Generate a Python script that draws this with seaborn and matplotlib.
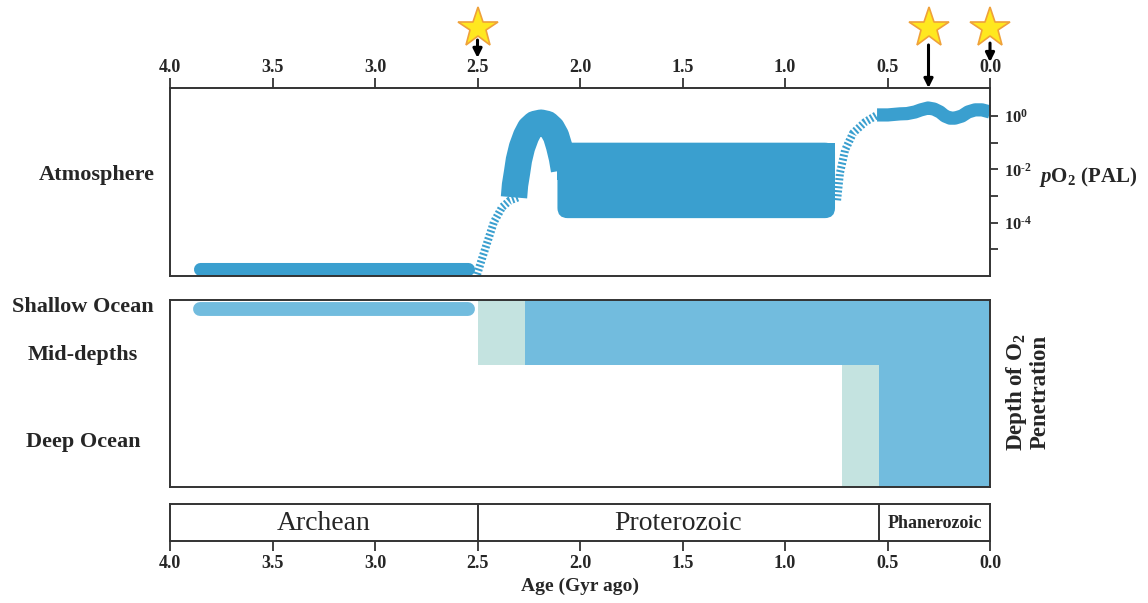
import matplotlib
matplotlib.use("Agg")
import matplotlib.pyplot as plt
import matplotlib.transforms as mtransforms
from matplotlib.patches import FancyBboxPatch
import seaborn as sns

# ---- data: ages in Gyr ago, atmosphere as log10(pO2 / PAL) ----
archean_age = [3.855, 2.546]
archean_logpo2 = [-5.73, -5.73]

goe_age = [2.502, 2.473, 2.449, 2.420, 2.380, 2.341, 2.302]
goe_logpo2 = [-5.94, -5.23, -4.66, -3.98, -3.42, -3.16, -3.05]

lomagundi_age = [2.322, 2.317, 2.307, 2.298, 2.283, 2.263, 2.244, 2.220, 2.190,
                 2.161, 2.137, 2.117, 2.102, 2.088, 2.078]
lomagundi_logpo2 = [-3.05, -2.59, -2.11, -1.65, -1.17, -0.75, -0.47, -0.30, -0.25,
                    -0.30, -0.47, -0.75, -1.13, -1.58, -2.03]

proterozoic_age = [2.11, 0.756]
proterozoic_low = [-3.83, -3.83]
proterozoic_high = [-1.0, -1.0]

noe_age = [0.746, 0.732, 0.707, 0.668, 0.610, 0.551]
noe_logpo2 = [-3.16, -2.14, -1.28, -0.64, -0.23, 0.04]

phanerozoic_age = [0.551, 0.498, 0.439, 0.405, 0.366, 0.337, 0.302, 0.273, 0.244,
                   0.220, 0.195, 0.171, 0.137, 0.107, 0.073, 0.039, 0.0]
phanerozoic_logpo2 = [0.04, 0.04, 0.08, 0.09, 0.15, 0.23, 0.30, 0.26, 0.15,
                      0.00, -0.08, -0.08, 0.00, 0.15, 0.23, 0.23, 0.15]

po2_ticks = [0, -2, -4]
po2_minor = [-1, -3, -5]
po2_labels = ["$\\mathregular{10^{0}}$", "$\\mathregular{10^{\\text{-}2}}$",
              "$\\mathregular{10^{\\text{-}4}}$"]

# ---- ocean: depth fraction, 0 = surface, 1 = deep ocean floor ----
shallow_age = [3.855, 2.546]
shallow_depth = [0.048, 0.048]

block_start = [2.5, 2.27, 0.72, 0.541]
block_end = [2.27, 0.0, 0.541, 0.0]
block_top = [0.0, 0.0, 0.348, 0.0]
block_bottom = [0.348, 0.348, 1.0, 1.0]
block_kind = ["transition", "oxic", "transition", "oxic"]

depth_names = ["Shallow Ocean", "Mid-depths", "Deep Ocean"]

# ---- eons ----
eon_names = ["Archean", "Proterozoic", "Phanerozoic"]
eon_bounds = [4.0, 2.5, 0.541, 0.0]

age_ticks = [4.0, 3.5, 3.0, 2.5, 2.0, 1.5, 1.0, 0.5, 0.0]
event_ages = [2.5, 0.3, 0.0]

# ---- styling ----
ATM_BLUE = "#3A9FCF"
OCEAN_BLUE = "#72BCDE"
PALE = "#C4E3E0"
SPINE = "#333333"
SERIF = ["Liberation Serif", "DejaVu Serif"]

sns.set_theme(style="white")
plt.rcParams["font.family"] = SERIF
plt.rcParams["font.weight"] = "bold"
plt.rcParams["mathtext.fontset"] = "custom"
plt.rcParams["mathtext.rm"] = "Liberation Serif:bold"
plt.rcParams["mathtext.it"] = "Liberation Serif:italic:bold"
plt.rcParams["mathtext.bf"] = "Liberation Serif:bold"

fig = plt.figure(figsize=(11.48, 6.03), dpi=100)
W, H = 1148, 603


def px_axes(x0, y0, x1, y1):
    return fig.add_axes([x0 / W, 1 - y1 / H, (x1 - x0) / W, (y1 - y0) / H])


ax_atm = px_axes(170, 88, 990, 276)
ax_sea = px_axes(170, 300, 990, 487)
ax_eon = px_axes(170, 504, 990, 541)

for ax in (ax_atm, ax_sea, ax_eon):
    ax.set_xlim(4.0, 0.0)
    for s in ax.spines.values():
        s.set_color(SPINE)
        s.set_linewidth(1.4)
        s.set_visible(True)
    ax.set_facecolor("white")

# ---- atmosphere panel ----
ax_atm.set_ylim(-6.0, 1.05)
sns.lineplot(x=archean_age, y=archean_logpo2, ax=ax_atm, color=ATM_BLUE, lw=9.4,
             sort=False, estimator=None, solid_capstyle="round")
dotted = (0, (0.25, 0.25))
sns.lineplot(x=goe_age, y=goe_logpo2, ax=ax_atm, color=ATM_BLUE, lw=5.8,
             sort=False, estimator=None, linestyle=dotted, dash_capstyle="butt")

# mid-Proterozoic plateau: square top, rounded lower corners
p_left, p_right = max(proterozoic_age), min(proterozoic_age)
p_low, p_high = proterozoic_low[0], proterozoic_high[0]
x_px = 205.0   # pixels per Gyr on this axis
y_px = 26.6    # pixels per decade of pO2
plateau = FancyBboxPatch((p_right, p_low), p_left - p_right, p_high - p_low,
                         boxstyle="round,pad=0,rounding_size=0.05",
                         mutation_aspect=x_px / y_px,
                         facecolor=ATM_BLUE, edgecolor="none", zorder=2)
ax_atm.add_patch(plateau)
ax_atm.fill_between(proterozoic_age, [(p_low + p_high) / 2] * 2, proterozoic_high,
                    color=ATM_BLUE, linewidth=0, zorder=2)

sns.lineplot(x=lomagundi_age, y=lomagundi_logpo2, ax=ax_atm, color=ATM_BLUE, lw=19,
             sort=False, estimator=None, solid_capstyle="butt", solid_joinstyle="round")
sns.lineplot(x=noe_age, y=noe_logpo2, ax=ax_atm, color=ATM_BLUE, lw=5.8,
             sort=False, estimator=None, linestyle=dotted, dash_capstyle="butt")
sns.lineplot(x=phanerozoic_age, y=phanerozoic_logpo2, ax=ax_atm, color=ATM_BLUE, lw=9.5,
             sort=False, estimator=None, solid_capstyle="butt", solid_joinstyle="round")

ax_atm.xaxis.tick_top()
ax_atm.set_xticks(age_ticks)
ax_atm.set_xticklabels([f"{t:.1f}" for t in age_ticks])
ax_atm.tick_params(axis="x", which="both", top=True, bottom=False, direction="out",
                   length=7, width=1.3, color=SPINE, labelsize=13, pad=2)
ax_atm.yaxis.tick_right()
ax_atm.set_yticks(po2_ticks)
ax_atm.set_yticklabels(po2_labels)
ax_atm.set_yticks(po2_minor, minor=True)
ax_atm.tick_params(axis="y", which="both", right=True, left=False, direction="out",
                   length=6, width=1.3, color=SPINE, labelsize=12, pad=4)
ax_atm.set_xlabel("")
ax_atm.set_ylabel("")

# event markers above the top axis
trans = mtransforms.blended_transform_factory(ax_atm.transData, ax_atm.transAxes)
arrow_span = [(1.255, 1.16), (1.229, 1.0), (1.239, 1.138)]
for age, (tail, head) in zip(event_ages, arrow_span):
    ax_atm.plot([age], [1.32], transform=trans, marker="*", markersize=30,
                markerfacecolor="#FFE81F", markeredgecolor="#EFA13A",
                markeredgewidth=1.2, clip_on=False, zorder=5)
    ax_atm.annotate("", xy=(age, head), xycoords=trans, xytext=(age, tail),
                    textcoords=trans,
                    arrowprops=dict(arrowstyle="-|>", color="black", lw=2.2,
                                    mutation_scale=13, shrinkA=0, shrinkB=0),
                    annotation_clip=False, zorder=6)

# ---- ocean panel ----
ax_sea.set_ylim(1.0, 0.0)
for s0, s1, t, b, kind in zip(block_start, block_end, block_top, block_bottom, block_kind):
    ax_sea.fill_between([s0, s1], [t, t], [b, b],
                        color=PALE if kind == "transition" else OCEAN_BLUE, linewidth=0)
sns.lineplot(x=shallow_age, y=shallow_depth, ax=ax_sea, color=OCEAN_BLUE, lw=10,
             sort=False, estimator=None, solid_capstyle="round")
ax_sea.set_xticks([])
ax_sea.set_yticks([])
ax_sea.set_xlabel("")
ax_sea.set_ylabel("")

# ---- eon bar ----
ax_eon.set_ylim(0, 1)
for b in eon_bounds[1:-1]:
    ax_eon.axvline(b, color=SPINE, lw=1.4)
for name, a0, a1 in zip(eon_names, eon_bounds[:-1], eon_bounds[1:]):
    small = name == "Phanerozoic"
    ax_eon.text((a0 + a1) / 2, 0.48, name, ha="center", va="center",
                fontsize=13 if small else 20,
                fontweight="bold" if small else "normal")
ax_eon.set_yticks([])
ax_eon.set_xticks(age_ticks)
ax_eon.set_xticklabels([f"{t:.1f}" for t in age_ticks])
ax_eon.tick_params(axis="x", bottom=True, direction="out", length=7, width=1.3,
                   color=SPINE, labelsize=13, pad=3)
ax_eon.set_xlabel("Age (Gyr ago)", fontsize=14, fontweight="bold", labelpad=4)

# ---- side labels ----
fig.text(97 / W, 1 - 175 / H, "Atmosphere", ha="center", va="center",
         fontsize=16, fontweight="bold")
for name, ypx in zip(depth_names, [307, 355, 442]):
    fig.text(83 / W, 1 - ypx / H, name, ha="center", va="center",
             fontsize=16, fontweight="bold")
fig.text(1088 / W, 1 - 177 / H, "$\\mathit{p}$O$_2$ (PAL)", ha="center", va="center",
         fontsize=15, fontweight="bold")
fig.text(1027 / W, 1 - 392 / H, "Depth of O$_2$\nPenetration", ha="center", va="center",
         rotation=90, fontsize=16.5, fontweight="bold", linespacing=1.05)

fig.savefig("out.png", dpi=100)
